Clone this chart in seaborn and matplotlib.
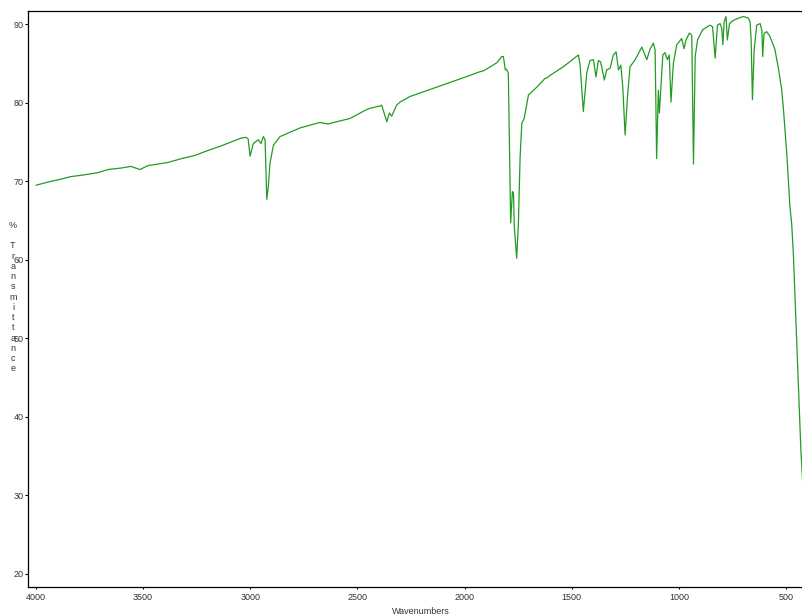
import pandas as pd
import seaborn as sns
import matplotlib.pyplot as plt

# IR spectrum (wavenumber in cm-1, % transmittance)
wavenumbers = [
    4000, 3944, 3880, 3837, 3780, 3711, 3664, 3600, 3557, 3515, 3477, 3430,
    3384, 3320, 3258, 3200, 3137, 3090, 3043, 3020, 3010, 3001, 2986, 2963,
    2950, 2939, 2931, 2923, 2916, 2908, 2892, 2861, 2768, 2675, 2636, 2610,
    2535, 2460, 2442, 2395, 2387, 2363, 2351, 2340, 2317, 2301, 2255, 2130,
    2037, 1974, 1936, 1910, 1850, 1827, 1819, 1810, 1805, 1796, 1785, 1777,
    1772, 1768, 1757, 1749, 1741, 1733, 1722, 1702, 1663, 1625, 1614, 1601,
    1539, 1469, 1461, 1446, 1430, 1415, 1399, 1387, 1376, 1365, 1348, 1337,
    1321, 1306, 1293, 1282, 1271, 1262, 1251, 1240, 1228, 1204, 1173, 1150,
    1134, 1119, 1111, 1104, 1096, 1091, 1085, 1075, 1065, 1054, 1045, 1037,
    1026, 1010, 987, 976, 967, 951, 940, 932, 924, 913, 890, 855,
    843, 831, 820, 808, 800, 795, 789, 780, 774, 764, 746, 722,
    699, 676, 668, 663, 657, 649, 637, 621, 613, 609, 603, 590,
    576, 553, 537, 520, 512, 497, 482, 474, 466, 451, 436, 431,
    424, 421,
]
transmittance = [
    69.5, 69.9, 70.3, 70.6, 70.8, 71.1, 71.5, 71.7, 71.9, 71.5, 72.0, 72.2,
    72.4, 72.9, 73.3, 73.9, 74.5, 75.0, 75.5, 75.6, 75.4, 73.2, 74.8, 75.3,
    74.8, 75.7, 75.3, 67.7, 69.3, 72.3, 74.6, 75.7, 76.8, 77.5, 77.3, 77.5,
    78.0, 79.1, 79.3, 79.6, 79.7, 77.6, 78.7, 78.3, 79.7, 80.1, 80.8, 82.0,
    82.9, 83.5, 83.9, 84.1, 85.1, 85.9, 85.9, 84.2, 84.3, 83.8, 64.7, 68.7,
    68.5, 64.2, 60.2, 64.6, 73.1, 77.4, 78.0, 81.0, 82.0, 83.1, 83.2, 83.5,
    84.6, 86.1, 84.8, 78.9, 83.8, 85.4, 85.5, 83.3, 85.4, 85.2, 82.9, 84.2,
    84.4, 86.1, 86.5, 84.2, 84.8, 82.0, 75.9, 80.8, 84.6, 85.5, 87.1, 85.5,
    86.9, 87.6, 86.7, 72.9, 81.6, 78.7, 81.6, 86.1, 86.4, 85.5, 86.1, 80.1,
    85.0, 87.4, 88.2, 86.9, 88.0, 88.9, 88.6, 72.2, 85.9, 88.0, 89.3, 89.9,
    89.7, 85.7, 89.9, 90.1, 89.5, 87.4, 90.3, 91.0, 88.0, 90.1, 90.5, 90.8,
    91.0, 90.8, 90.3, 88.0, 80.4, 86.7, 89.9, 90.1, 89.2, 85.9, 88.85, 89.06,
    88.5, 86.9, 84.6, 81.6, 79.1, 73.6, 66.8, 64.65, 60.8, 50.2, 39.6, 35.8,
    32.4, 31.2,
]

x_ticks = [4000, 3500, 3000, 2500, 2000, 1500, 1000, 500]
y_ticks = [20, 30, 40, 50, 60, 70, 80, 90]

sns.set_theme(style='white')
plt.rcParams['font.family'] = ['Liberation Sans', 'DejaVu Sans']

df = pd.DataFrame({'wavenumber': wavenumbers, 'T': transmittance})

fig = plt.figure(figsize=(8.03, 6.15), dpi=100)
ax = fig.add_axes([0.0349, 0.0455, 0.9651, 0.9366])

sns.lineplot(data=df, x='wavenumber', y='T', ax=ax, sort=False,
             estimator=None, color='#229b22', linewidth=0.9)

ax.set_xlim(4037, 421)
ax.set_ylim(18.3, 91.7)
ax.set_xticks(x_ticks)
ax.set_yticks(y_ticks)
ax.set_xlabel('')
ax.set_ylabel('')

for side in ['top', 'left', 'bottom']:
    ax.spines[side].set_color('black')
    ax.spines[side].set_linewidth(0.9)
ax.spines['right'].set_visible(False)

ax.tick_params(axis='y', direction='out', length=2.5, width=0.8, pad=0.5,
               labelsize=6.5, labelcolor='#333333', color='black', left=True)
ax.tick_params(axis='x', direction='out', length=1.5, width=0.8, pad=2.5,
               labelsize=6.5, labelcolor='#333333', color='black', bottom=True)

# stacked y label like the instrument software
ylab = '%\n\n' + '\n'.join('Transmittance')
fig.text(13 / 803, 0.517, ylab, ha='center', va='center', fontsize=6.5,
         color='#333333', linespacing=1.18, multialignment='center')
fig.text(421 / 803, 3 / 615, 'Wavenumbers', ha='center', va='center',
         fontsize=6.5, color='#333333')

fig.savefig('out.png', dpi=100)
